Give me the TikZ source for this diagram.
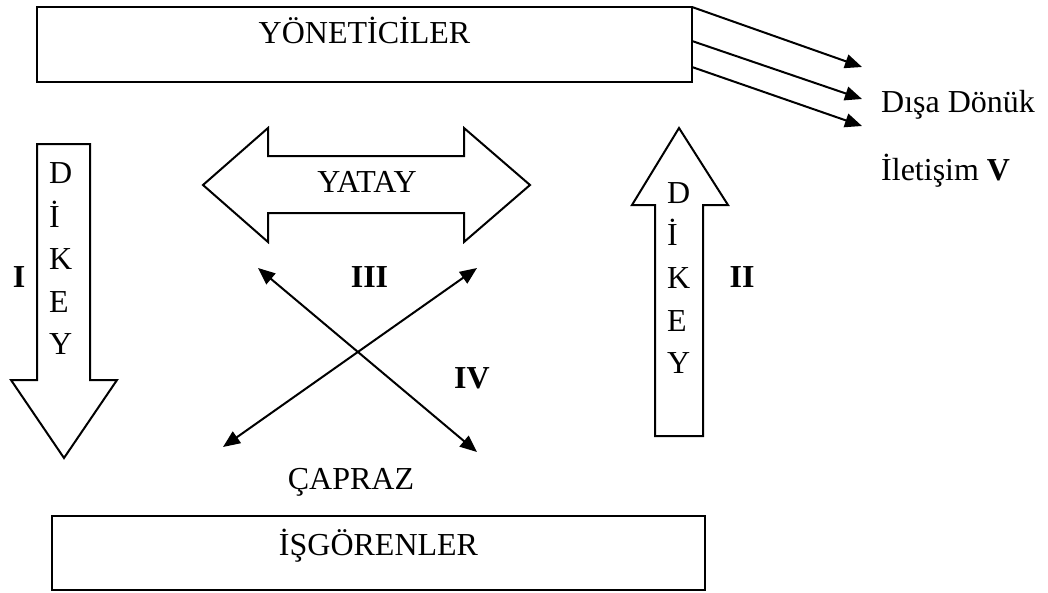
\documentclass[tikz,border=0pt]{standalone}
\usepackage{fontspec}
\setmainfont{Liberation Serif}
\usetikzlibrary{arrows.meta}
\begin{document}
\begin{tikzpicture}[x=1pt,y=-1pt,
  outline/.style={draw=black,line width=2pt,line join=miter},
  boxnode/.style={outline,inner sep=0pt,outer sep=0pt,anchor=north west},
  txt/.style={font=\fontsize{32}{38}\selectfont,inner sep=0pt,anchor=base},
  bold/.style={txt,font=\fontsize{32}{38}\selectfont\bfseries},
  ltr/.style={txt,anchor=base west},
  conn/.style={line width=2pt,-{Triangle[length=17pt,width=14pt]}},
  dconn/.style={line width=2pt,{Triangle[length=17pt,width=14pt]}-{Triangle[length=17pt,width=14pt]}}
]
\useasboundingbox (0,0) rectangle (1048,592);

% boxes
\node[boxnode,minimum width=655pt,minimum height=75pt] (yon) at (37,7) {};
\node[txt] (yontxt) at (364.5,43) {YÖNETİCİLER};
\node[boxnode,minimum width=653pt,minimum height=74pt] (isg) at (52,516) {};
\node[txt] (isgtxt) at (378.5,555) {İŞGÖRENLER};

% outward arrows
\coordinate (s1) at (692,7);
\coordinate (s2) at (692,41);
\coordinate (s3) at (692,67);
\coordinate (e1) at (862,67);
\coordinate (e2) at (862,99);
\coordinate (e3) at (862,126);
\draw[conn] (s1) -- (e1);
\draw[conn] (s2) -- (e2);
\draw[conn] (s3) -- (e3);
\node[ltr] (disa) at (881,112) {Dışa Dönük};
\node[ltr] (iletisim) at (881,180) {İletişim \textbf{V}};

% left down arrow
\draw[outline] (37,144) -- (90,144) -- (90,380) -- (117,380) -- (64,458)
  -- (11,380) -- (37,380) -- cycle;
\node[ltr] (l1) at (49,183) {D};
\node[ltr] (l2) at (49,227) {İ};
\node[ltr] (l3) at (49,269) {K};
\node[ltr] (l4) at (49,312) {E};
\node[ltr] (l5) at (49,354) {Y};
\node[bold] (n1) at (19,287) {I};

% right up arrow
\draw[outline] (655,436) -- (655,205) -- (632,205) -- (679,128) -- (728,205)
  -- (703,205) -- (703,436) -- cycle;
\node[ltr] (r1) at (667,203) {D};
\node[ltr] (r2) at (667,245) {İ};
\node[ltr] (r3) at (667,288) {K};
\node[ltr] (r4) at (667,331) {E};
\node[ltr] (r5) at (667,373) {Y};
\node[bold] (n2) at (742,287) {II};

% horizontal double arrow
\draw[outline] (203,185) -- (268,128) -- (268,156) -- (464,156) -- (464,128)
  -- (530,185) -- (464,242) -- (464,213) -- (268,213) -- (268,242) -- cycle;
\node[txt] (yatay) at (367,192) {YATAY};

% cross arrows
\coordinate (a1) at (258,268);
\coordinate (a2) at (477,452);
\coordinate (b1) at (223,447);
\coordinate (b2) at (477,268);
\draw[dconn] (a1) -- (a2);
\draw[dconn] (b1) -- (b2);
\node[bold] (n3) at (369.5,287) {III};
\node[bold] (n4) at (472,388) {IV};
\node[txt] (capraz) at (351,489) {ÇAPRAZ};
\end{tikzpicture}
\end{document}
